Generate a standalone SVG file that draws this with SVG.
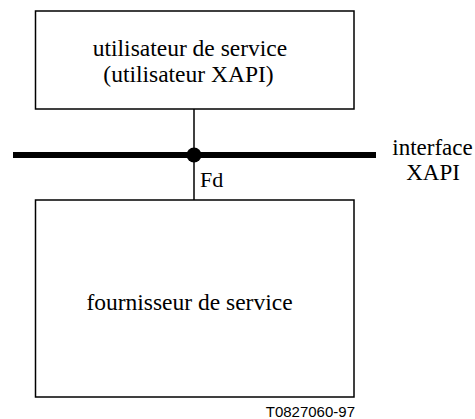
<svg xmlns="http://www.w3.org/2000/svg" width="475" height="419" viewBox="0 0 475 419">
<style>
.box{fill:#fff;stroke:#000;stroke-width:1.5}
.t{font-family:"Liberation Serif","Times New Roman",serif;font-size:23.5px;fill:#000}
.c{text-anchor:middle}
.ref{font-family:"Liberation Sans",Arial,sans-serif;font-size:15px;fill:#000}
</style>
<rect width="475" height="419" fill="#fff"/>
<g id="connectors">
<line x1="194" y1="109" x2="194" y2="200" stroke="#000" stroke-width="1.5"/>
<line x1="13" y1="155" x2="376" y2="155" stroke="#000" stroke-width="6"/>
<circle cx="194" cy="155" r="7.5" fill="#000"/>
<text class="t" x="200" y="187" style="font-size:22px">Fd</text>
</g>
<g id="user">
<rect class="box" x="35.5" y="11" width="318.5" height="98"/>
<text class="t c" x="190" y="56">utilisateur de service</text>
<text class="t c" x="188.5" y="82">(utilisateur XAPI)</text>
</g>
<g id="interface">
<text class="t c" x="432.5" y="155" style="font-size:23px">interface</text>
<text class="t c" x="433" y="180" style="font-size:23px">XAPI</text>
</g>
<g id="provider">
<rect class="box" x="35.5" y="200" width="318.5" height="197"/>
<text class="t c" x="189.5" y="310">fournisseur de service</text>
</g>
<text class="ref" x="355" y="417" text-anchor="end">T0827060-97</text>
</svg>
